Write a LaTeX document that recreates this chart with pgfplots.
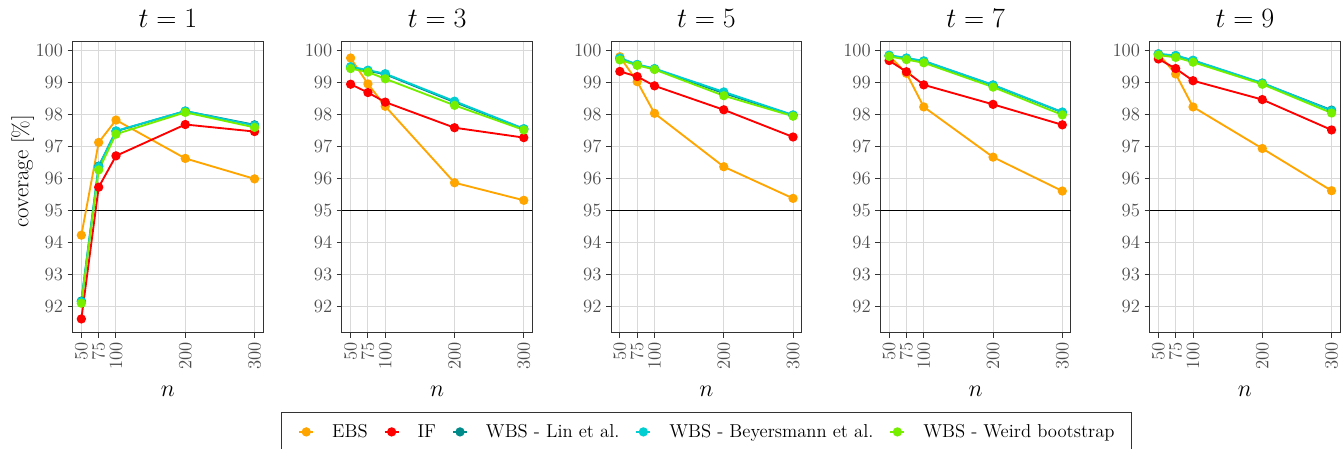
\RequirePackage{fix-cm}
\documentclass[border=0pt]{standalone}
\usepackage{fontspec}
\usepackage{pgfplots}
\usepackage{pgfplotstable}
\pgfplotsset{compat=1.18}

\definecolor{cEBS}{HTML}{FFA500}
\definecolor{cIF}{HTML}{FF0000}
\definecolor{cLin}{HTML}{008B8B}
\definecolor{cBey}{HTML}{00CED1}
\definecolor{cWeird}{HTML}{76EE00}
\definecolor{gridgray}{HTML}{D9D9D9}
\definecolor{framegray}{HTML}{333333}
\definecolor{labelgray}{HTML}{4D4D4D}

% coverage [%] by sample size n, one table per time point t
\pgfplotstableread{
n   EBS    IF     Lin    Bey    Weird
50  94.24  91.62  92.18  92.16  92.11
75  97.14  95.74  96.40  96.38  96.28
100 97.84  96.72  97.49  97.50  97.40
200 96.64  97.70  98.12  98.12  98.08
300 96.00  97.48  97.69  97.67  97.61
}\tA
\pgfplotstableread{
n   EBS    IF     Lin    Bey    Weird
50  99.78  98.96  99.49  99.51  99.45
75  98.97  98.70  99.38  99.40  99.34
100 98.27  98.40  99.27  99.29  99.13
200 95.88  97.60  98.40  98.43  98.30
300 95.33  97.29  97.56  97.57  97.53
}\tB
\pgfplotstableread{
n   EBS    IF     Lin    Bey    Weird
50  99.82  99.36  99.76  99.78  99.72
75  99.04  99.20  99.57  99.58  99.55
100 98.05  98.91  99.44  99.45  99.42
200 96.38  98.16  98.68  98.72  98.60
300 95.39  97.31  97.99  98.00  97.96
}\tC
\pgfplotstableread{
n   EBS    IF     Lin    Bey    Weird
50  99.85  99.70  99.85  99.87  99.83
75  99.30  99.35  99.77  99.78  99.73
100 98.25  98.94  99.68  99.69  99.63
200 96.68  98.33  98.93  98.94  98.87
300 95.62  97.69  98.08  98.09  98.00
}\tD
\pgfplotstableread{
n   EBS    IF     Lin    Bey    Weird
50  99.91  99.75  99.90  99.91  99.87
75  99.28  99.45  99.85  99.86  99.80
100 98.25  99.07  99.70  99.71  99.65
200 96.95  98.48  98.99  99.00  98.96
300 95.63  97.53  98.15  98.13  98.06
}\tE

\pgfplotsset{
  series/.style={color=#1, line width=1.4pt, mark=*, mark size=2.75pt,
    mark options={solid, fill=#1, draw=#1}},
  panel/.style={
    scale only axis, width=142.875pt, height=218.25pt,
    anchor=north west,
    xmin=37.5, xmax=312.5, ymin=91.19, ymax=100.29,
    xtick={50,75,100,200,300}, ytick={92,93,...,100},
    xtick pos=lower, ytick pos=left,
    grid=major, major grid style={color=gridgray, line width=0.75pt},
    axis line style={color=framegray, line width=0.75pt},
    tick align=outside, major tick length=3.75pt,
    tick style={color=framegray, line width=0.75pt},
    xticklabel style={rotate=90, anchor=east, text=labelgray,
      font=\fontsize{14}{16}\selectfont},
    yticklabel style={text=labelgray, font=\fontsize{14}{16}\selectfont},
    title style={font=\fontsize{21}{25}\selectfont,
      at={(axis description cs:0.5,1)}, anchor=base, yshift=4.8pt},
    xlabel={$n$},
    xlabel style={font=\fontsize{18}{22}\selectfont,
      at={(axis description cs:0.5,0)}, anchor=base, yshift=-47.5pt},
    legend image code/.code={%
      \draw[mark repeat=2, mark phase=2] plot coordinates {(0pt,0pt) (5.25pt,0pt) (10.5pt,0pt)};},
  },
}

\newcommand{\drawseries}[1]{%
  \addplot[forget plot, black, line width=0.75pt] coordinates {(37.5,95) (312.5,95)};
  \addplot[series=cEBS] table[x=n, y=EBS] {#1};
  \addplot[series=cIF] table[x=n, y=IF] {#1};
  \addplot[series=cLin] table[x=n, y=Lin] {#1};
  \addplot[series=cBey] table[x=n, y=Bey] {#1};
  \addplot[series=cWeird] table[x=n, y=Weird] {#1};
}

\begin{document}
\begin{tikzpicture}
\path[use as bounding box] (0pt,0pt) rectangle (1005.75pt,-336.75pt);

\begin{axis}[panel, at={(54.525pt,-31.275pt)}, title={$t = 1$},
  ylabel={coverage [\%]},
  ylabel style={font=\fontsize{17}{20}\selectfont,
    at={(axis description cs:-0.262,0.555)}, anchor=center}]
\drawseries{\tA}
\end{axis}

\begin{axis}[panel, at={(256.46pt,-31.275pt)}, title={$t = 3$}]
\drawseries{\tB}
\end{axis}

\begin{axis}[panel, at={(458.4pt,-31.275pt)}, title={$t = 5$},
  legend columns=5,
  legend style={at={(axis description cs:0.5,-0.272)}, anchor=north,
    draw=framegray, line width=0.75pt, fill=white,
    font=\fontsize{14}{16}\selectfont,
    inner xsep=12.5pt, inner ysep=9pt,
    nodes={inner sep=0pt, text depth=0.15em},
    /tikz/every odd column/.append style={column sep=13.5pt},
    /tikz/every even column/.append style={column sep=12pt}},
  legend cell align=left]
\drawseries{\tC}
\legend{EBS, IF, WBS - Lin et al., WBS - Beyersmann et al., WBS - Weird bootstrap}
\end{axis}

\begin{axis}[panel, at={(660.34pt,-31.275pt)}, title={$t = 7$}]
\drawseries{\tD}
\end{axis}

\begin{axis}[panel, at={(862.275pt,-31.275pt)}, title={$t = 9$}]
\drawseries{\tE}
\end{axis}
\end{tikzpicture}
\end{document}
